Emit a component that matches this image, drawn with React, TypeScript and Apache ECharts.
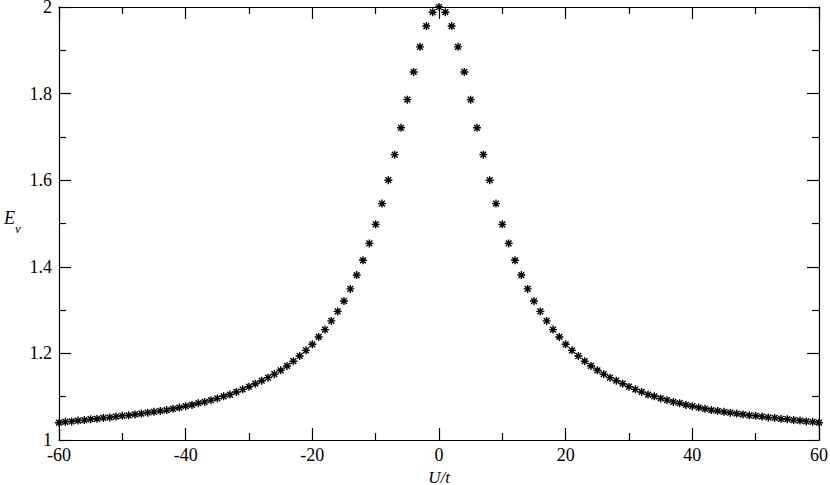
import React, { useEffect, useRef } from "react";
import * as echarts from "echarts";

// U/t values (every integer from -60 to 60)
const U_VALUES: number[] = [
  -60, -59, -58, -57, -56, -55, -54, -53, -52, -51, -50, -49, -48, -47, -46, -45, -44, -43, -42, -41,
  -40, -39, -38, -37, -36, -35, -34, -33, -32, -31, -30, -29, -28, -27, -26, -25, -24, -23, -22, -21,
  -20, -19, -18, -17, -16, -15, -14, -13, -12, -11, -10, -9, -8, -7, -6, -5, -4, -3, -2, -1,
  0,
  1, 2, 3, 4, 5, 6, 7, 8, 9, 10, 11, 12, 13, 14, 15, 16, 17, 18, 19, 20,
  21, 22, 23, 24, 25, 26, 27, 28, 29, 30, 31, 32, 33, 34, 35, 36, 37, 38, 39, 40,
  41, 42, 43, 44, 45, 46, 47, 48, 49, 50, 51, 52, 53, 54, 55, 56, 57, 58, 59, 60,
];

// E_v values, in the same order as U_VALUES
const E_VALUES: number[] = [
  1.040, 1.042, 1.043, 1.045, 1.046, 1.048, 1.049, 1.051, 1.052, 1.054,
  1.056, 1.057, 1.059, 1.061, 1.063, 1.065, 1.067, 1.069, 1.072, 1.075,
  1.078, 1.081, 1.085, 1.088, 1.092, 1.096, 1.101, 1.105, 1.111, 1.117,
  1.123, 1.130, 1.137, 1.144, 1.152, 1.161, 1.171, 1.182, 1.194, 1.207,
  1.221, 1.238, 1.255, 1.275, 1.297, 1.321, 1.349, 1.381, 1.415, 1.454,
  1.498, 1.546, 1.600, 1.659, 1.721, 1.786, 1.850, 1.908, 1.956, 1.988,
  2.000,
  1.988, 1.956, 1.908, 1.850, 1.786, 1.721, 1.659, 1.600, 1.546, 1.498,
  1.454, 1.415, 1.381, 1.349, 1.321, 1.297, 1.275, 1.255, 1.238, 1.221,
  1.207, 1.194, 1.182, 1.171, 1.161, 1.152, 1.144, 1.137, 1.130, 1.123,
  1.117, 1.111, 1.105, 1.101, 1.096, 1.092, 1.088, 1.085, 1.081, 1.078,
  1.075, 1.072, 1.069, 1.067, 1.065, 1.063, 1.061, 1.059, 1.057, 1.056,
  1.054, 1.052, 1.051, 1.049, 1.048, 1.046, 1.045, 1.043, 1.042, 1.040,
];

const X_MIN = -60;
const X_MAX = 60;
const X_STEP = 20;
const Y_MIN = 1;
const Y_MAX = 2;
const Y_STEP = 0.2;

const X_NAME = "U/t";
const Y_NAME_MAIN = "E";
const Y_NAME_SUB = "v";

const FONT = "Liberation Serif";
const ASTERISK =
  "path://M0,-5L0,5M-5,0L5,0M-3.6,-3.6L3.6,3.6M-3.6,3.6L3.6,-3.6M-1.4,-1.4L1.4,-1.4L1.4,1.4L-1.4,1.4Z";

export default function App() {
  const ref = useRef<HTMLDivElement | null>(null);

  useEffect(() => {
    if (!ref.current) return;
    const chart = echarts.init(ref.current, null, { renderer: "svg" });

    const lineStyle = { color: "#000", width: 1.2 };
    const baseX = {
      type: "value" as const,
      min: X_MIN,
      max: X_MAX,
      interval: X_STEP,
      splitLine: { show: false },
      axisLine: { show: true, onZero: false, lineStyle },
      axisTick: { show: true, inside: true, length: 12, lineStyle },
      minorTick: { show: true, splitNumber: 2, length: 7, lineStyle },
      minorSplitLine: { show: false },
    };
    const baseY = {
      type: "value" as const,
      min: Y_MIN,
      max: Y_MAX,
      interval: Y_STEP,
      splitLine: { show: false },
      axisLine: { show: true, onZero: false, lineStyle },
      axisTick: { show: true, inside: true, length: 12, lineStyle },
      minorTick: { show: true, splitNumber: 2, length: 7, lineStyle },
      minorSplitLine: { show: false },
    };

    chart.setOption({
      animation: false,
      backgroundColor: "#fff",
      textStyle: { fontFamily: FONT },
      grid: {
        left: 59,
        right: 11,
        top: 7,
        bottom: 45,
        containLabel: false,
        outerBoundsMode: "none",
      },
      xAxis: [
        {
          ...baseX,
          position: "bottom",
          name: X_NAME,
          nameLocation: "middle",
          nameGap: 29,
          nameTextStyle: {
            fontFamily: FONT,
            fontStyle: "italic",
            fontSize: 17,
            color: "#000",
          },
          axisLabel: {
            show: true,
            margin: 6,
            fontFamily: FONT,
            fontSize: 18,
            color: "#000",
          },
        },
        {
          ...baseX,
          position: "top",
          axisLabel: { show: false },
        },
      ],
      yAxis: [
        {
          ...baseY,
          position: "left",
          axisLabel: {
            show: true,
            margin: 7,
            fontFamily: FONT,
            fontSize: 18,
            color: "#000",
          },
        },
        {
          ...baseY,
          position: "right",
          axisLabel: { show: false },
        },
      ],
      graphic: [
        {
          type: "text",
          left: 4,
          top: 209,
          style: {
            text: Y_NAME_MAIN,
            fontFamily: FONT,
            fontStyle: "italic",
            fontSize: 18,
            fill: "#000",
          },
        },
        {
          type: "text",
          left: 15,
          top: 222,
          style: {
            text: Y_NAME_SUB,
            fontFamily: FONT,
            fontStyle: "italic",
            fontSize: 13,
            fill: "#000",
          },
        },
      ],
      series: [
        {
          type: "scatter",
          xAxisIndex: 0,
          yAxisIndex: 0,
          data: U_VALUES.map((u, i) => [u, E_VALUES[i]]),
          symbol: ASTERISK,
          symbolSize: 8,
          itemStyle: { color: "#000", borderColor: "#000", borderWidth: 1.4, opacity: 1 },
          emphasis: { disabled: true },
          silent: true,
          clip: false,
        },
      ],
    });

    return () => chart.dispose();
  }, []);

  return (
    <div
      ref={ref}
      style={{ position: "fixed", left: 0, top: 0, width: 830, height: 485, background: "#fff" }}
    />
  );
}
